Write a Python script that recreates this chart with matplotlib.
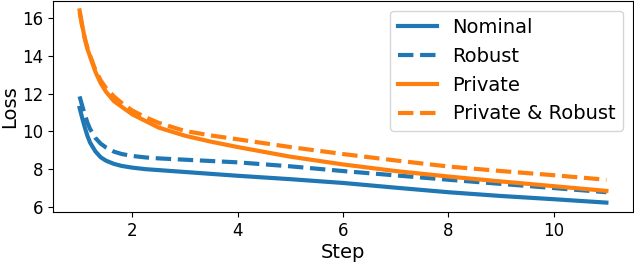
import matplotlib
matplotlib.use('Agg')
import matplotlib.pyplot as plt

steps = [1, 1.05, 1.1, 1.15, 1.2, 1.3, 1.4, 1.5, 1.65, 1.8, 2, 2.25, 2.5,
         3, 3.5, 4, 5, 6, 7, 8, 9, 10, 11]

nominal = [11.24, 10.7, 10.2, 9.75, 9.4, 8.94, 8.63, 8.45, 8.28, 8.17, 8.08,
           8.0, 7.95, 7.85, 7.75, 7.65, 7.47, 7.27, 7.02, 6.78, 6.58, 6.41, 6.23]
robust = [11.85, 11.35, 10.88, 10.45, 10.12, 9.65, 9.35, 9.15, 8.93, 8.8, 8.7,
          8.62, 8.57, 8.5, 8.43, 8.36, 8.15, 7.9, 7.67, 7.44, 7.22, 7.0, 6.78]
private = [16.4, 15.6, 14.9, 14.35, 13.95, 13.15, 12.55, 12.1, 11.6, 11.3, 10.9,
           10.55, 10.2, 9.77, 9.45, 9.17, 8.66, 8.25, 7.9, 7.61, 7.35, 7.1, 6.85]
private_robust = [16.3, 15.55, 14.9, 14.4, 14.0, 13.25, 12.7, 12.3, 11.85, 11.5,
                  11.1, 10.75, 10.45, 10.02, 9.78, 9.58, 9.17, 8.8, 8.46, 8.14,
                  7.9, 7.68, 7.44]

blue = '#1f77b4'
orange = '#ff7f0e'

fig, ax = plt.subplots(figsize=(6.34, 2.62), dpi=100)
fig.subplots_adjust(left=0.084, right=0.998, top=0.997, bottom=0.19)

ax.plot(steps, nominal, color=blue, lw=3, label='Nominal')
ax.plot(steps, robust, color=blue, lw=3, ls='--', label='Robust')
ax.plot(steps, private, color=orange, lw=3, label='Private')
ax.plot(steps, private_robust, color=orange, lw=3, ls='--',
        label='Private & Robust')

ax.set_xticks([2, 4, 6, 8, 10])
ax.set_yticks([6, 8, 10, 12, 14, 16])
ax.tick_params(labelsize=12)
ax.set_xlabel('Step', fontsize=14, labelpad=2)
ax.set_ylabel('Loss', fontsize=14, labelpad=2)
ax.legend(loc='upper right', fontsize=14, handlelength=2.0)

fig.savefig('out.png')
